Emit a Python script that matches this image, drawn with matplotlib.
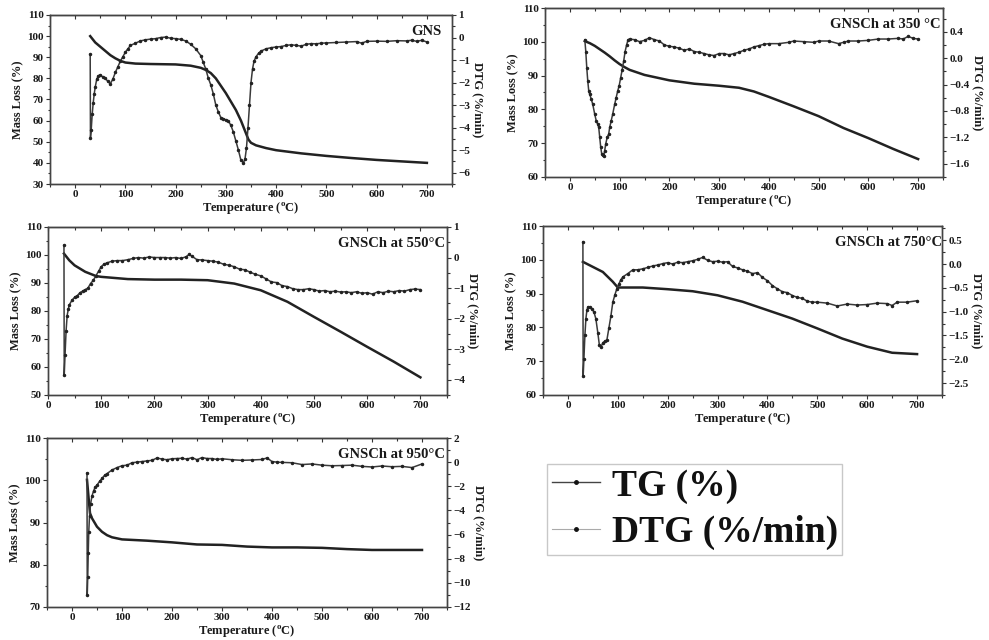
import matplotlib
matplotlib.use("Agg")
import matplotlib.pyplot as plt
from matplotlib.lines import Line2D
from matplotlib.ticker import MultipleLocator

plt.rcParams['font.family'] = ['Liberation Serif', 'DejaVu Serif']
plt.rcParams['font.weight'] = 'bold'
plt.rcParams['mathtext.fontset'] = 'custom'
plt.rcParams['mathtext.rm'] = 'Liberation Serif:bold'
plt.rcParams['mathtext.bf'] = 'Liberation Serif:bold'

# ---------------- data ----------------
# GNS
gns_tg_t = [30, 40, 50, 60, 70, 80, 90, 100, 120, 150, 200, 230, 250, 260, 270, 280, 290, 300, 310,
            320, 330, 340, 345, 350, 360, 380, 400, 450, 500, 550, 600, 650, 700]
gns_tg = [100, 97, 95, 93, 91, 89.5, 88.3, 87.5, 87, 86.8, 86.6, 86, 85, 84, 82.5, 80, 76.5, 73, 69,
          65, 60, 54, 51, 49.5, 48.3, 47, 46, 44.5, 43.3, 42.3, 41.4, 40.7, 40]
gns_dtg_t = [30, 30.5, 32, 34, 36, 38, 40, 43, 46, 50, 55, 60, 65, 70, 75, 80, 85, 90, 95, 100, 105, 110,
             120, 130, 140, 150, 160, 170, 180, 190, 200, 210, 220, 230, 240, 250, 255, 260, 265, 270,
             275, 280, 285, 290, 295, 300, 305, 310, 315, 320, 325, 330, 335, 338, 341, 344, 347, 350,
             353, 356, 360, 365, 370, 380, 390, 400, 410, 420, 430, 440, 450, 460, 470, 480, 490, 500,
             520, 540, 560, 570, 580, 600, 620, 640, 660, 670, 680, 690, 700]
gns_dtg = [-0.75, -4.45, -4.1, -3.4, -2.9, -2.5, -2.2, -1.85, -1.7, -1.65, -1.75, -1.8, -1.95, -2.05,
           -1.85, -1.55, -1.3, -1.05, -0.85, -0.65, -0.5, -0.35, -0.25, -0.15, -0.1, -0.07, -0.05, 0.0,
           0.02, -0.03, -0.05, -0.08, -0.15, -0.3, -0.5, -0.8, -1.1, -1.4, -1.8, -2.1, -2.5, -3.0, -3.3,
           -3.55, -3.6, -3.65, -3.7, -3.9, -4.2, -4.6, -5.0, -5.45, -5.55, -5.4, -4.9, -4.0, -3.0, -2.0,
           -1.4, -1.05, -0.85, -0.7, -0.6, -0.5, -0.45, -0.42, -0.4, -0.35, -0.32, -0.35, -0.38, -0.3,
           -0.27, -0.28, -0.25, -0.24, -0.22, -0.2, -0.18, -0.25, -0.17, -0.16, -0.17, -0.14, -0.15,
           -0.12, -0.17, -0.12, -0.2]

# GNSCh at 350
c350_tg_t = [30, 40, 50, 60, 70, 80, 90, 100, 110, 120, 150, 200, 250, 300, 340, 370, 400, 450, 500,
             550, 600, 650, 700]
c350_tg = [100.2, 99.6, 98.8, 97.8, 96.8, 95.7, 94.5, 93.4, 92.5, 91.7, 90.2, 88.6, 87.6, 87.0, 86.4,
           85.3, 83.7, 80.9, 78.0, 74.5, 71.5, 68.3, 65.3]
c350_dtg_t = [30, 32, 34, 36, 38, 40, 43, 46, 50, 53, 56, 58, 60, 62, 64, 66, 68, 70, 72, 75, 78, 80, 83,
              86, 90, 93, 96, 99, 102, 105, 108, 111, 114, 117, 120, 130, 140, 150, 160, 170, 180, 190,
              200, 210, 220, 230, 240, 250, 260, 270, 280, 290, 300, 310, 320, 330, 340, 350, 360, 370,
              380, 390, 400, 420, 440, 450, 470, 490, 500, 520, 540, 550, 560, 580, 600, 620, 640, 660,
              670, 680, 690, 700]
c350_dtg = [0.28, 0.1, -0.15, -0.35, -0.5, -0.55, -0.62, -0.7, -0.85, -0.95, -1.0, -1.05, -1.2, -1.35,
            -1.45, -1.47, -1.48, -1.4, -1.3, -1.2, -1.15, -1.05, -0.95, -0.85, -0.7, -0.6, -0.5, -0.42,
            -0.3, -0.18, -0.05, 0.1, 0.2, 0.28, 0.29, 0.28, 0.25, 0.27, 0.31, 0.28, 0.26, 0.2, 0.18, 0.17,
            0.15, 0.12, 0.14, 0.1, 0.09, 0.07, 0.05, 0.04, 0.07, 0.07, 0.05, 0.07, 0.09, 0.12, 0.14, 0.17,
            0.19, 0.21, 0.22, 0.22, 0.24, 0.26, 0.25, 0.24, 0.26, 0.26, 0.22, 0.24, 0.26, 0.26, 0.27, 0.29,
            0.29, 0.3, 0.29, 0.33, 0.3, 0.29]

# GNSCh at 550
c550_tg_t = [30, 40, 50, 70, 90, 100, 150, 200, 250, 300, 350, 400, 450, 500, 550, 600, 650, 700]
c550_tg = [100.5, 98.1, 96.3, 94.0, 92.5, 92.2, 91.4, 91.2, 91.2, 91.0, 89.8, 87.4, 83.3, 77.9, 72.6,
           67.2, 61.9, 56.3]
c550_dtg_t = [30, 30.5, 32, 34, 36, 38, 40, 45, 50, 55, 60, 65, 70, 75, 80, 85, 90, 95, 100, 105, 110,
              120, 130, 140, 150, 160, 170, 180, 190, 200, 210, 220, 230, 240, 250, 260, 265, 270, 280,
              290, 300, 310, 320, 330, 340, 350, 360, 370, 380, 390, 400, 410, 420, 430, 440, 450, 460,
              470, 480, 490, 500, 510, 520, 530, 540, 550, 560, 570, 580, 590, 600, 610, 620, 630, 640,
              650, 660, 670, 680, 690, 700]
c550_dtg = [0.4, -3.85, -3.2, -2.4, -1.9, -1.7, -1.55, -1.4, -1.3, -1.25, -1.15, -1.1, -1.05, -1.0, -0.85,
            -0.75, -0.6, -0.45, -0.3, -0.22, -0.18, -0.12, -0.1, -0.1, -0.07, -0.03, 0.0, -0.02, 0.02, 0.0,
            0.0, 0.0, -0.02, 0.0, -0.03, 0.03, 0.1, 0.05, -0.07, -0.08, -0.1, -0.12, -0.15, -0.22, -0.25,
            -0.3, -0.38, -0.4, -0.48, -0.55, -0.6, -0.7, -0.8, -0.82, -0.92, -0.95, -1.02, -1.05, -1.05,
            -1.02, -1.05, -1.1, -1.08, -1.12, -1.1, -1.13, -1.12, -1.15, -1.12, -1.17, -1.15, -1.2, -1.12,
            -1.15, -1.1, -1.12, -1.08, -1.1, -1.05, -1.03, -1.05]

# GNSCh at 750
c750_tg_t = [30, 50, 70, 90, 100, 120, 150, 200, 250, 300, 350, 400, 450, 500, 550, 600, 650, 700]
c750_tg = [99.4, 97.9, 96.4, 93.5, 91.8, 91.8, 91.8, 91.3, 90.7, 89.5, 87.6, 85.1, 82.6, 79.7, 76.7,
           74.3, 72.5, 72.1]
c750_dtg_t = [30, 30.5, 32, 34, 36, 38, 40, 44, 48, 52, 56, 60, 63, 66, 70, 74, 78, 82, 86, 90, 94, 98,
              102, 106, 110, 120, 130, 140, 150, 160, 170, 180, 190, 200, 210, 220, 230, 240, 250, 260,
              270, 280, 290, 300, 310, 320, 330, 340, 350, 360, 370, 380, 390, 400, 410, 420, 430, 440,
              450, 460, 470, 480, 490, 500, 520, 540, 560, 580, 600, 620, 640, 650, 660, 680, 700]
c750_dtg = [0.47, -2.36, -2.0, -1.5, -1.15, -0.97, -0.9, -0.9, -0.95, -1.0, -1.15, -1.45, -1.7, -1.75,
            -1.65, -1.62, -1.6, -1.35, -1.1, -0.8, -0.65, -0.52, -0.42, -0.33, -0.27, -0.2, -0.12, -0.12,
            -0.1, -0.07, -0.04, -0.02, 0.01, 0.03, 0.0, 0.04, 0.03, 0.05, 0.07, 0.1, 0.14, 0.08, 0.05,
            0.06, 0.04, 0.05, -0.05, -0.08, -0.12, -0.15, -0.2, -0.18, -0.28, -0.35, -0.45, -0.52, -0.58,
            -0.6, -0.66, -0.7, -0.72, -0.78, -0.8, -0.8, -0.82, -0.88, -0.84, -0.86, -0.85, -0.82, -0.83,
            -0.87, -0.8, -0.8, -0.77]

# GNSCh at 950
c950_tg_t = [30, 33, 36, 40, 50, 60, 70, 80, 100, 150, 200, 250, 300, 350, 400, 450, 500, 550, 600, 700]
c950_tg = [100.1, 96.1, 92.2, 91.0, 89.0, 87.8, 87.0, 86.5, 86.0, 85.7, 85.3, 84.8, 84.7, 84.3, 84.1,
           84.1, 84.0, 83.7, 83.5, 83.5]
c950_dtg_t = [30, 30.5, 31.5, 32.5, 33.5, 35, 37, 40, 43, 46, 50, 55, 60, 65, 70, 80, 90, 100, 110, 120,
              130, 140, 150, 160, 170, 180, 190, 200, 210, 220, 230, 240, 250, 260, 270, 280, 290, 300,
              320, 340, 360, 380, 390, 400, 410, 420, 440, 460, 480, 500, 520, 540, 560, 580, 600, 620,
              640, 660, 680, 700]
c950_dtg = [-0.9, -11.0, -9.5, -7.5, -5.8, -4.5, -3.5, -2.8, -2.4, -2.1, -1.9, -1.6, -1.35, -1.1, -0.95,
            -0.65, -0.45, -0.3, -0.25, -0.05, 0.0, 0.05, 0.1, 0.15, 0.35, 0.25, 0.2, 0.28, 0.3, 0.32, 0.25,
            0.38, 0.2, 0.38, 0.3, 0.3, 0.22, 0.28, 0.2, 0.15, 0.18, 0.22, 0.35, 0.05, 0.0, -0.02, -0.05,
            -0.2, -0.15, -0.25, -0.3, -0.28, -0.25, -0.35, -0.4, -0.32, -0.38, -0.35, -0.45, -0.15]

titles = ["GNS", "GNSCh at 350 °C", "GNSCh at 550°C", "GNSCh at 750°C", "GNSCh at 950°C"]
legend_labels = ["TG (%)", "DTG (%/min)"]

# ---------------- drawing ----------------
W, H = 989, 640
fig = plt.figure(figsize=(W / 100, H / 100), dpi=100)
TXT = '#1a1a1a'
TG_C = '#222222'
DTG_C = '#3a3a3a'


def px_rect(l, t, r, b):
    return [l / W, 1 - b / H, (r - l) / W, (b - t) / H]


def panel(rect, tg_t, tg, dtg_t, dtg, xlim, ylim_l, ystep_l, ylim_r, ystep_r, title, title_x):
    ax = fig.add_axes(rect)
    ax2 = ax.twinx()
    ax.plot(tg_t, tg, color=TG_C, lw=1.8, zorder=3)
    ax2.plot(dtg_t, dtg, color=DTG_C, lw=1.1, marker='o', ms=1.5, mfc='#222', mec='#222')
    ax.set_xlim(*xlim)
    ax.set_ylim(*ylim_l)
    ax2.set_ylim(*ylim_r)
    ax.xaxis.set_major_locator(MultipleLocator(100))
    ax.xaxis.set_minor_locator(MultipleLocator(50))
    ax.yaxis.set_major_locator(MultipleLocator(ystep_l))
    ax.yaxis.set_minor_locator(MultipleLocator(ystep_l / 2))
    ax2.yaxis.set_major_locator(MultipleLocator(ystep_r))
    ax2.yaxis.set_minor_locator(MultipleLocator(ystep_r / 2))
    for a in (ax, ax2):
        a.tick_params(which='both', direction='out', labelsize=8, colors='#333',
                      labelcolor=TXT, width=0.8, pad=1.5)
        a.tick_params(which='major', length=3)
        a.tick_params(which='minor', length=1.8)
        for s in a.spines.values():
            s.set_color('#444')
            s.set_linewidth(1.0)
    top = ax.secondary_xaxis('top')
    top.xaxis.set_major_locator(MultipleLocator(100))
    top.xaxis.set_minor_locator(MultipleLocator(50))
    top.tick_params(which='both', direction='in', labeltop=False, colors='#333', width=0.8)
    top.tick_params(which='major', length=3)
    top.tick_params(which='minor', length=1.8)
    ax.set_xlabel(r'Temperature ($^{\mathbf{o}}$C)', fontsize=9, fontweight='bold', color=TXT, labelpad=1)
    ax.set_ylabel('Mass Loss (%)', fontsize=9, fontweight='bold', color=TXT, labelpad=2)
    ax2.set_ylabel('DTG (%/min)', fontsize=9, fontweight='bold', color=TXT, rotation=270, labelpad=10)
    ax.text(title_x, 0.94, title, transform=ax.transAxes, ha='right', va='top',
            fontsize=10.5, fontweight='bold', color=TXT)
    return ax


panel(px_rect(50, 15, 452, 184), gns_tg_t, gns_tg, gns_dtg_t, gns_dtg,
      (-50, 750), (30, 110), 10, (-6.5, 1), 1, titles[0], 0.975)
panel(px_rect(545, 8, 943, 177), c350_tg_t, c350_tg, c350_dtg_t, c350_dtg,
      (-50, 750), (60, 110), 10, (-1.8, 0.76), 0.4, titles[1], 0.995)
panel(px_rect(48, 227, 447, 395), c550_tg_t, c550_tg, c550_dtg_t, c550_dtg,
      (0, 750), (50, 110), 10, (-4.5, 1), 1, titles[2], 0.995)
panel(px_rect(543, 226, 942, 395), c750_tg_t, c750_tg, c750_dtg_t, c750_dtg,
      (-50, 750), (60, 110), 10, (-2.75, 0.8), 0.5, titles[3], 1.0)
panel(px_rect(47, 438, 447, 607), c950_tg_t, c950_tg, c950_dtg_t, c950_dtg,
      (-50, 750), (70, 110), 10, (-12, 2), 2, titles[4], 0.995)

handles = [Line2D([], [], color='#444', lw=1.0, marker='o', ms=2.5, mfc='#111', mec='#111'),
           Line2D([], [], color='#aaa', lw=0.8, marker='o', ms=2.5, mfc='#111', mec='#111')]
leg = fig.legend(handles, legend_labels, loc='upper left',
                 bbox_to_anchor=(547 / W, 1 - 464 / H), prop={'family': 'Liberation Serif',
                                                              'weight': 'bold', 'size': 27},
                 frameon=True, fancybox=False, handlelength=1.3, handletextpad=0.3,
                 borderpad=0.12, labelspacing=0.3, borderaxespad=0)
leg.get_frame().set_edgecolor('#bbbbbb')
leg.get_frame().set_linewidth(1.0)
for t in leg.get_texts():
    t.set_color('#111')

fig.savefig('out.png', dpi=100)
